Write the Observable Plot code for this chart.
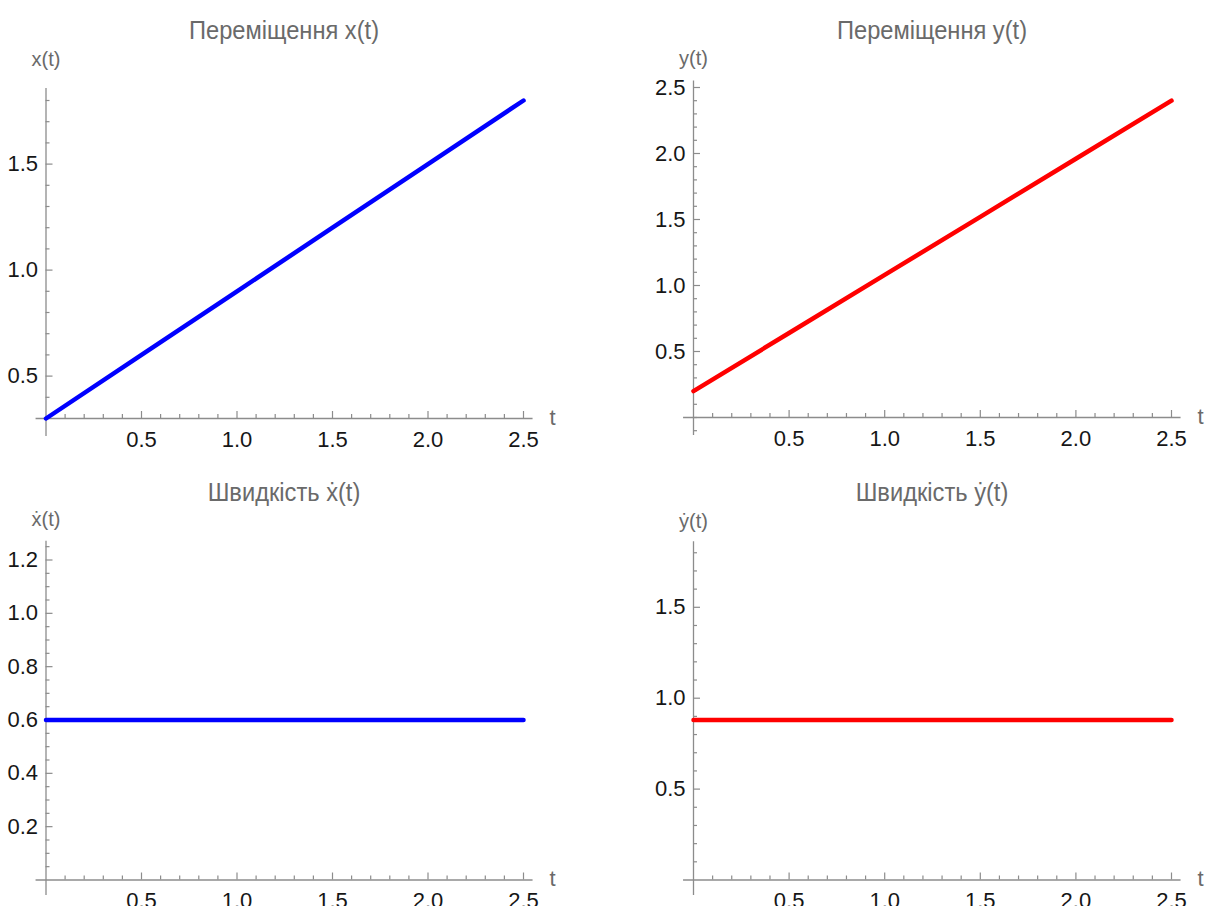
<!DOCTYPE html>
<html>
<head>
<meta charset="utf-8">
<script src="https://cdn.jsdelivr.net/npm/d3@7"></script>
<script src="https://cdn.jsdelivr.net/npm/@observablehq/plot@0.6"></script>
<style>
  html, body { margin: 0; padding: 0; background: #fff; }
  #root { position: relative; width: 1205px; height: 906px; overflow: hidden;
          font-family: "Liberation Sans", Arial, sans-serif; }
  .title { position: absolute; font-size: 26px; color: #6a6a6a; white-space: nowrap;
           transform: translate(-50%, -50%) scaleX(0.91); line-height: 1; }
  .panel { position: absolute; }
</style>
</head>
<body>
<div id="root"></div>
<script>
// ---- data ----
const tValues = [0, 0.5, 1.0, 1.5, 2.0, 2.5];
const xDisp   = [0.3, 0.6, 0.9, 1.2, 1.5, 1.8];
const yDisp   = [0.2, 0.64, 1.08, 1.52, 1.96, 2.4];
const xVel    = [0.6, 0.6, 0.6, 0.6, 0.6, 0.6];
const yVel    = [0.88, 0.88, 0.88, 0.88, 0.88, 0.88];

const titles  = ["Переміщення x(t)", "Переміщення y(t)", "Швидкість ẋ(t)", "Швидкість ẏ(t)"];
const yLabels = ["x(t)", "y(t)", "ẋ(t)", "ẏ(t)"];
const xLabel  = "t";
const xTicks  = [0.5, 1.0, 1.5, 2.0, 2.5];
const yTicks1 = [0.5, 1.0, 1.5];
const yTicks2 = [0.5, 1.0, 1.5, 2.0, 2.5];
const yTicks3 = [0.2, 0.4, 0.6, 0.8, 1.0, 1.2];
const yTicks4 = [0.5, 1.0, 1.5];
const seriesColors = ["#0000ff", "#ff0000", "#0000ff", "#ff0000"];

// ---- layout ----
const axisColor = "#8c8c8c";
const tickColor = "#161616";
const labelColor = "#6a6a6a";
const fontFamily = '"Liberation Sans", Arial, sans-serif';

function minorTicks(lo, hi, step, majors) {
  const out = [];
  for (let i = Math.ceil(lo / step - 1e-9); i * step <= hi + 1e-9; i++) {
    const v = +(i * step).toFixed(4);
    if (!majors.some(m => Math.abs(m - v) < 1e-6)) out.push(v);
  }
  return out;
}

const panels = [
  {values: xDisp, yTicks: yTicks1, minorStep: 0.1, minorFrom: 0.4, yDomain: [0.3, 1.8], axisAt: 0.3,
   yExtent: [0.215, 1.857], left: 0, top: 0, width: 600, height: 453,
   mLeft: 45.5, mRight: 77, mTop: 100, mBottom: 35, labelDy: -41, titleX: 284, titleY: 30},
  {values: yDisp, yTicks: yTicks2, minorStep: 0.1, minorFrom: -0.1, yDomain: [0, 2.5], axisAt: 0,
   yExtent: [-0.136, 2.55], left: 600, top: 0, width: 605, height: 453,
   mLeft: 93, mRight: 34, mTop: 87, mBottom: 36, labelDy: -29, titleX: 932, titleY: 30},
  {values: xVel, yTicks: yTicks3, minorStep: 0.05, minorFrom: 0.05, yDomain: [0, 1.2], axisAt: 0,
   yExtent: [-0.058, 1.27], left: 0, top: 453, width: 600, height: 453,
   mLeft: 45.5, mRight: 77, mTop: 106.5, mBottom: 26.5, labelDy: -40, titleX: 284, titleY: 492},
  {values: yVel, yTicks: yTicks4, minorStep: 0.1, minorFrom: 0.1, yDomain: [0, 1.5], axisAt: 0,
   yExtent: [-0.085, 1.86], left: 600, top: 453, width: 605, height: 453,
   mLeft: 93, mRight: 34, mTop: 153.8, mBottom: 26.5, labelDy: -86, titleX: 932, titleY: 492}
];

const root = document.getElementById("root");

panels.forEach((p, k) => {
  const data = tValues.map((t, i) => ({t, v: p.values[i]}));
  const xMinor = minorTicks(0.1, 2.5, 0.1, xTicks);
  const yMinor = minorTicks(p.minorFrom, p.yExtent[1], p.minorStep, p.yTicks);

  const chart = Plot.plot({
    width: p.width,
    height: p.height,
    marginLeft: p.mLeft,
    marginRight: p.mRight,
    marginTop: p.mTop,
    marginBottom: p.mBottom,
    x: {domain: [0, 2.5], axis: null},
    y: {domain: p.yDomain, axis: null},
    style: {fontFamily, background: "transparent", overflow: "visible"},
    marks: [
      // axis lines
      Plot.ruleY([p.axisAt], {x1: -0.052, x2: 2.55, stroke: axisColor, strokeWidth: 1.3}),
      Plot.ruleX([0], {y1: p.yExtent[0], y2: p.yExtent[1], stroke: axisColor, strokeWidth: 1.3}),
      // x ticks (pointing up)
      Plot.ruleX(xTicks, {x: d => d, y1: p.axisAt, y2: p.axisAt, insetTop: -7, stroke: axisColor, strokeWidth: 1.2}),
      Plot.ruleX(xMinor, {x: d => d, y1: p.axisAt, y2: p.axisAt, insetTop: -4, stroke: axisColor, strokeWidth: 1.2}),
      // y ticks (pointing right)
      Plot.ruleY(p.yTicks, {y: d => d, x1: 0, x2: 0, insetRight: -7, stroke: axisColor, strokeWidth: 1.2}),
      Plot.ruleY(yMinor, {y: d => d, x1: 0, x2: 0, insetRight: -4, stroke: axisColor, strokeWidth: 1.2}),
      // tick labels
      Plot.text(xTicks, {x: d => d, y: p.axisAt, dy: 21, text: d => d.toFixed(1), fontSize: 22, fill: tickColor}),
      Plot.text(p.yTicks, {x: 0, y: d => d, dx: -8, textAnchor: "end", text: d => d.toFixed(1), fontSize: 22, fill: tickColor}),
      // axis labels
      Plot.text([yLabels[k]], {frameAnchor: "top-left", textAnchor: "middle", lineAnchor: "middle",
                               text: d => d, dy: p.labelDy, fontSize: 20, fill: labelColor}),
      Plot.text([xLabel], {frameAnchor: "bottom-right", textAnchor: "middle", lineAnchor: "middle",
                           text: d => d, dx: 29, dy: -1, fontSize: 22, fill: labelColor}),
      // the series
      Plot.line(data, {x: "t", y: "v", stroke: seriesColors[k], strokeWidth: 4.5})
    ]
  });
  chart.classList.add("panel");
  chart.style.left = p.left + "px";
  chart.style.top = p.top + "px";
  root.appendChild(chart);

  const title = document.createElement("div");
  title.className = "title";
  title.textContent = titles[k];
  title.style.left = p.titleX + "px";
  title.style.top = p.titleY + "px";
  root.appendChild(title);
});
</script>
</body>
</html>
